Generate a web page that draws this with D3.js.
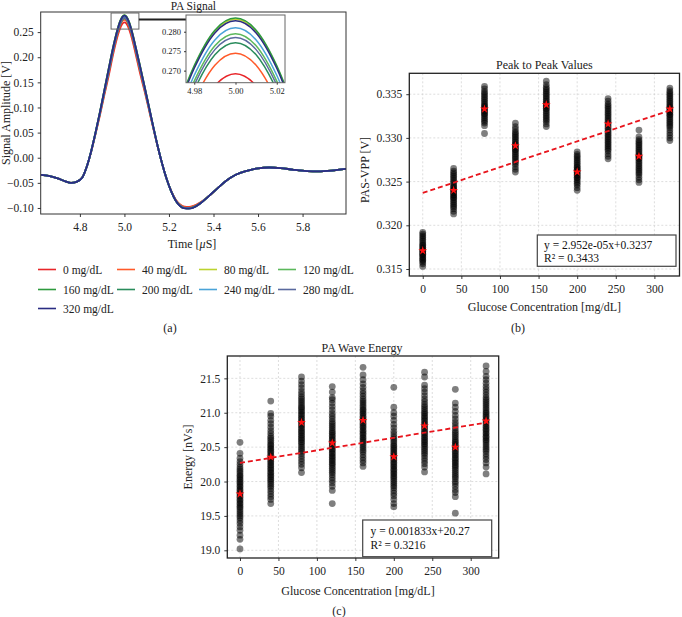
<!DOCTYPE html>
<html><head><meta charset="utf-8">
<script src="https://cdn.jsdelivr.net/npm/d3@7"></script>
<style>
body{margin:0;background:#fff;}
svg{display:block;font-family:"Liberation Serif","Times New Roman",serif;}
</style></head><body>
<svg id="chart" width="682" height="617"></svg>
<script>
// ---------------- DATA ----------------
const glucoseLevels = [0, 40, 80, 120, 160, 200, 240, 280, 320];
const legendLabels = ["0 mg/dL","40 mg/dL","80 mg/dL","120 mg/dL","160 mg/dL","200 mg/dL","240 mg/dL","280 mg/dL","320 mg/dL"];
const seriesColors = ["#e8262a","#ff5a2a","#bcd32f","#5cb85c","#2e9a3e","#2a8c5c","#4aa3d8","#5a6a9e","#2a2c82"];

// PA signal (time in µs, amplitude in V)
const timeLead = [4.625, 4.66, 4.70, 4.735, 4.76, 4.785, 4.81, 4.83];
const signalLead = [-0.034, -0.036, -0.041, -0.047, -0.050, -0.048, -0.040, -0.019];
const timeLobe = [4.85, 4.87, 4.89, 4.91, 4.93, 4.95, 4.96, 4.97, 4.98, 4.99, 5.00, 5.01, 5.02, 5.03, 5.04, 5.05, 5.07, 5.09, 5.11, 5.13, 5.15, 5.17, 5.19, 5.21, 5.23, 5.25, 5.27, 5.29, 5.31, 5.34];
const lobe0   = [0.0106,0.0464,0.0846,0.1250,0.1647,0.2072,0.2262,0.2432,0.2570,0.2661,0.2692,0.2661,0.2570,0.2432,0.2262,0.2072,0.1687,0.1330,0.0956,0.0574,0.0206,-0.013,-0.043,-0.066,-0.083,-0.093,-0.0975,-0.098,-0.096,-0.089];
const lobe40  = [0.0111,0.0478,0.0869,0.1287,0.1700,0.2125,0.2315,0.2485,0.2623,0.2714,0.2745,0.2714,0.2623,0.2485,0.2315,0.2125,0.1740,0.1367,0.0979,0.0587,0.0211,-0.013,-0.043,-0.066,-0.084,-0.094,-0.0985,-0.099,-0.097,-0.090];
const lobe80  = [0.0120,0.0499,0.0909,0.1348,0.1787,0.2212,0.2402,0.2572,0.2710,0.2801,0.2832,0.2801,0.2710,0.2572,0.2402,0.2212,0.1827,0.1428,0.1019,0.0609,0.0220,-0.013,-0.043,-0.067,-0.085,-0.096,-0.1005,-0.101,-0.099,-0.091];
const lobe120 = [0.0116,0.0490,0.0892,0.1322,0.1750,0.2175,0.2365,0.2535,0.2673,0.2764,0.2795,0.2764,0.2673,0.2535,0.2365,0.2175,0.1790,0.1402,0.1002,0.0600,0.0216,-0.013,-0.043,-0.067,-0.085,-0.0955,-0.100,-0.1005,-0.0985,-0.0905];
const lobe160 = [0.0120,0.0500,0.0910,0.1350,0.1790,0.2215,0.2405,0.2575,0.2713,0.2804,0.2835,0.2804,0.2713,0.2575,0.2405,0.2215,0.1830,0.1430,0.1020,0.0610,0.0220,-0.013,-0.043,-0.067,-0.085,-0.096,-0.1005,-0.101,-0.099,-0.091];
const lobe200 = [0.0114,0.0484,0.0882,0.1306,0.1727,0.2152,0.2342,0.2512,0.2650,0.2741,0.2772,0.2741,0.2650,0.2512,0.2342,0.2152,0.1767,0.1386,0.0992,0.0594,0.0214,-0.013,-0.043,-0.067,-0.085,-0.0955,-0.100,-0.1005,-0.0985,-0.0905];
const lobe240 = [0.0118,0.0494,0.0899,0.1333,0.1765,0.2190,0.2380,0.2550,0.2688,0.2779,0.2810,0.2779,0.2688,0.2550,0.2380,0.2190,0.1805,0.1413,0.1009,0.0604,0.0218,-0.013,-0.043,-0.067,-0.085,-0.096,-0.1005,-0.101,-0.099,-0.091];
const lobe280 = [0.0115,0.0488,0.0888,0.1315,0.1740,0.2165,0.2355,0.2525,0.2663,0.2754,0.2785,0.2754,0.2663,0.2525,0.2355,0.2165,0.1780,0.1395,0.0998,0.0598,0.0215,-0.013,-0.043,-0.067,-0.085,-0.096,-0.1005,-0.101,-0.099,-0.091];
const lobe320 = [0.0119,0.0498,0.0907,0.1345,0.1783,0.2208,0.2398,0.2568,0.2706,0.2797,0.2828,0.2797,0.2706,0.2568,0.2398,0.2208,0.1823,0.1425,0.1017,0.0608,0.0219,-0.013,-0.043,-0.067,-0.085,-0.0962,-0.1008,-0.1013,-0.0993,-0.0912];
const timeTail = [5.38, 5.42, 5.46, 5.50, 5.55, 5.60, 5.65, 5.70, 5.76, 5.82, 5.87, 5.93, 5.995];
const signalTail = [-0.076, -0.060, -0.045, -0.034, -0.026, -0.021, -0.0195, -0.0205, -0.024, -0.0265, -0.027, -0.0255, -0.022];
const signalLobes = [lobe0, lobe40, lobe80, lobe120, lobe160, lobe200, lobe240, lobe280, lobe320];

// Ticks
const ampTicks = [-0.10, -0.05, 0.00, 0.05, 0.10, 0.15, 0.20, 0.25];
const timeTicks = [4.8, 5.0, 5.2, 5.4, 5.6, 5.8];
const insetAmpTicks = [0.270, 0.275, 0.280];
const insetTimeTicks = [4.98, 5.00, 5.02];
const glucoseTicks = [0, 50, 100, 150, 200, 250, 300];
const vppTicks = [0.315, 0.320, 0.325, 0.330, 0.335];
const energyTicks = [19.0, 19.5, 20.0, 20.5, 21.0, 21.5];

// Peak-to-peak values [V]
const vpp0   = [0.3153,0.3156,0.3158,0.3160,0.3161,0.3163,0.3164,0.3166,0.3167,0.3168,0.3170,0.3171,0.3172,0.3174,0.3175,0.3177,0.3178,0.3180,0.3182,0.3184,0.3186,0.3188,0.3190,0.3192];
const vpp40  = [0.3213,0.3216,0.3219,0.3221,0.3223,0.3225,0.3227,0.3229,0.3231,0.3232,0.3234,0.3235,0.3237,0.3238,0.3240,0.3241,0.3243,0.3244,0.3246,0.3248,0.3250,0.3252,0.3254,0.3256,0.3258,0.3260,0.3262,0.3265];
const vpp80  = [0.3305,0.3314,0.3317,0.3319,0.3321,0.3323,0.3325,0.3327,0.3328,0.3330,0.3331,0.3333,0.3334,0.3336,0.3337,0.3339,0.3341,0.3343,0.3345,0.3347,0.3349,0.3351,0.3353,0.3356,0.3359];
const vpp120 = [0.3261,0.3264,0.3267,0.3270,0.3272,0.3274,0.3276,0.3278,0.3280,0.3282,0.3284,0.3286,0.3287,0.3289,0.3290,0.3292,0.3293,0.3295,0.3297,0.3299,0.3301,0.3303,0.3305,0.3307,0.3310,0.3313,0.3317];
const vpp160 = [0.3313,0.3316,0.3319,0.3321,0.3323,0.3325,0.3327,0.3329,0.3331,0.3333,0.3334,0.3336,0.3337,0.3339,0.3340,0.3342,0.3344,0.3346,0.3348,0.3350,0.3352,0.3354,0.3356,0.3358,0.3361,0.3365];
const vpp200 = [0.3240,0.3243,0.3246,0.3248,0.3250,0.3252,0.3254,0.3255,0.3257,0.3258,0.3260,0.3261,0.3263,0.3264,0.3266,0.3267,0.3269,0.3271,0.3273,0.3275,0.3277,0.3279,0.3281,0.3284];
const vpp240 = [0.3276,0.3279,0.3282,0.3285,0.3287,0.3289,0.3291,0.3293,0.3295,0.3297,0.3299,0.3301,0.3303,0.3305,0.3307,0.3309,0.3311,0.3313,0.3315,0.3317,0.3319,0.3321,0.3323,0.3325,0.3327,0.3329,0.3331,0.3333,0.3335,0.3337,0.3339,0.3342,0.3345];
const vpp280 = [0.3249,0.3252,0.3255,0.3258,0.3260,0.3262,0.3264,0.3266,0.3268,0.3270,0.3272,0.3274,0.3276,0.3277,0.3279,0.3280,0.3282,0.3284,0.3286,0.3288,0.3290,0.3292,0.3294,0.3296,0.3298,0.3301,0.3309];
const vpp320 = [0.3297,0.3300,0.3303,0.3306,0.3309,0.3312,0.3314,0.3316,0.3318,0.3320,0.3322,0.3324,0.3326,0.3327,0.3329,0.3330,0.3332,0.3333,0.3335,0.3336,0.3338,0.3340,0.3342,0.3344,0.3346,0.3348,0.3350,0.3352,0.3354,0.3357];
const vppMeans = [0.3171, 0.3240, 0.3333, 0.3291, 0.3338, 0.3261, 0.3316, 0.3279, 0.3333];
const vppFitSlope = 2.952e-05, vppFitIntercept = 0.3237;
const vppFitText = ["y = 2.952e-05x+0.3237", "R\u00B2 = 0.3433"];

// PA wave energy [nVs]
const energy0   = [19.02,19.16,19.22,19.29,19.34,19.39,19.43,19.47,19.50,19.53,19.56,19.59,19.62,19.64,19.67,19.69,19.72,19.74,19.77,19.79,19.82,19.84,19.87,19.89,19.92,19.94,19.97,19.99,20.02,20.04,20.07,20.09,20.12,20.15,20.18,20.21,20.25,20.29,20.34,20.41,20.57];
const energy40  = [19.68,19.74,19.78,19.82,19.86,19.90,19.93,19.96,19.99,20.02,20.04,20.07,20.09,20.12,20.14,20.17,20.19,20.22,20.24,20.27,20.29,20.32,20.34,20.37,20.39,20.42,20.44,20.47,20.49,20.52,20.54,20.57,20.60,20.63,20.66,20.70,20.74,20.79,20.84,20.89,20.95,20.99,21.17];
const energy80  = [20.13,20.20,20.25,20.29,20.33,20.37,20.41,20.44,20.47,20.50,20.53,20.56,20.58,20.61,20.63,20.66,20.68,20.71,20.73,20.76,20.78,20.81,20.83,20.86,20.88,20.91,20.93,20.96,20.98,21.01,21.03,21.06,21.08,21.11,21.14,21.17,21.20,21.23,21.27,21.31,21.36,21.41,21.46,21.52];
const energy120 = [19.68,19.87,19.93,19.98,20.02,20.06,20.10,20.13,20.16,20.19,20.22,20.25,20.27,20.30,20.32,20.35,20.37,20.40,20.42,20.45,20.47,20.50,20.52,20.55,20.57,20.60,20.62,20.65,20.67,20.70,20.72,20.75,20.78,20.81,20.84,20.87,20.91,20.95,20.99,21.04,21.09,21.14,21.19,21.22,21.30,21.38];
const energy160 = [20.22,20.27,20.31,20.35,20.39,20.43,20.46,20.49,20.52,20.55,20.58,20.60,20.63,20.65,20.68,20.70,20.73,20.75,20.78,20.80,20.83,20.85,20.88,20.90,20.93,20.95,20.98,21.00,21.03,21.05,21.08,21.11,21.14,21.17,21.20,21.24,21.28,21.32,21.37,21.42,21.48,21.55,21.66];
const energy200 = [19.63,19.68,19.74,19.79,19.83,19.87,19.91,19.94,19.97,20.00,20.03,20.06,20.08,20.11,20.13,20.16,20.18,20.21,20.23,20.26,20.28,20.31,20.33,20.36,20.38,20.41,20.43,20.46,20.48,20.51,20.53,20.56,20.59,20.62,20.65,20.69,20.73,20.78,20.83,20.89,20.95,21.00,21.08,21.37];
const energy240 = [20.14,20.21,20.26,20.30,20.34,20.38,20.41,20.44,20.47,20.50,20.53,20.55,20.58,20.60,20.63,20.65,20.68,20.70,20.73,20.75,20.78,20.80,20.83,20.85,20.88,20.90,20.93,20.95,20.98,21.00,21.03,21.06,21.09,21.12,21.16,21.20,21.25,21.30,21.35,21.40,21.52,21.59];
const energy280 = [19.54,19.78,19.84,19.88,19.93,19.97,20.00,20.04,20.07,20.10,20.13,20.16,20.19,20.22,20.24,20.27,20.29,20.32,20.34,20.37,20.39,20.42,20.44,20.47,20.49,20.52,20.54,20.57,20.59,20.62,20.65,20.68,20.71,20.74,20.78,20.82,20.86,20.91,20.96,21.02,21.08,21.14,21.34];
const energy320 = [20.11,20.21,20.27,20.32,20.36,20.40,20.44,20.47,20.50,20.53,20.56,20.59,20.61,20.64,20.66,20.69,20.71,20.74,20.76,20.79,20.81,20.84,20.86,20.89,20.91,20.94,20.96,20.99,21.01,21.04,21.07,21.10,21.13,21.16,21.19,21.22,21.26,21.30,21.34,21.38,21.43,21.48,21.53,21.60,21.68];
const energyMeans = [19.82, 20.355, 20.86, 20.56, 20.89, 20.36, 20.81, 20.50, 20.88];
const energyFitSlope = 0.001833, energyFitIntercept = 20.27;
const energyFitText = ["y = 0.001833x+20.27", "R\u00B2 = 0.3216"];

// ---------------- DRAWING ----------------
const FONT = "Liberation Serif, Times New Roman, serif";
const svg = d3.select("#chart");
const TXT = "#222";

function styleAxis(g, fs) {
  g.attr("font-family", FONT).attr("font-size", fs);
  g.select(".domain").remove();
  g.selectAll(".tick text").attr("fill", TXT).style("font-family", FONT);
  g.selectAll(".tick line").attr("stroke", "#222").attr("stroke-width", 0.9);
}
function text(x, y, s, opts = {}) {
  const t = svg.append("text").attr("x", x).attr("y", y).text(s)
    .style("font-family", FONT)
    .attr("font-size", opts.fs || 12).attr("fill", opts.fill || TXT)
    .attr("text-anchor", opts.anchor || "middle");
  if (opts.rotate) t.attr("transform", `rotate(-90,${x},${y})`);
  if (opts.weight) t.attr("font-weight", opts.weight);
  return t;
}

// ===== Panel (a): PA Signal =====
const A = { l: 40.7, r: 346, t: 12, b: 214 };
const xA = d3.scaleLinear().domain([4.624, 5.995]).range([A.l, A.r]);
const yA = d3.scaleLinear().domain([-0.112, 0.29]).range([A.b, A.t]);
const allTime = timeLead.concat(timeLobe, timeTail);
const series = glucoseLevels.map((g, i) => {
  const vals = signalLead.concat(signalLobes[i], signalTail);
  return { g, color: seriesColors[i], pts: allTime.map((t, j) => [t, vals[j]]) };
});

const defs = svg.append("defs");
defs.append("clipPath").attr("id", "clipA").append("rect")
  .attr("x", A.l).attr("y", A.t).attr("width", A.r - A.l).attr("height", A.b - A.t);

const lineA = d3.line().x(d => xA(d[0])).y(d => yA(d[1])).curve(d3.curveMonotoneX);
const gA = svg.append("g").attr("clip-path", "url(#clipA)");
series.forEach(s => {
  gA.append("path").attr("d", lineA(s.pts)).attr("fill", "none")
    .attr("stroke", s.color).attr("stroke-width", 1.8);
});

svg.append("rect").attr("x", A.l).attr("y", A.t).attr("width", A.r - A.l).attr("height", A.b - A.t)
  .attr("fill", "none").attr("stroke", "#333").attr("stroke-width", 1);

styleAxis(svg.append("g").attr("transform", `translate(${A.l},0)`)
  .call(d3.axisLeft(yA).tickValues(ampTicks).tickFormat(d3.format(".2f")).tickSize(3).tickPadding(4)), 11.5);
styleAxis(svg.append("g").attr("transform", `translate(0,${A.b})`)
  .call(d3.axisBottom(xA).tickValues(timeTicks).tickFormat(d3.format(".1f")).tickSize(3).tickPadding(6)), 11.5);

text((A.l + A.r) / 2, 10, "PA Signal", { fs: 11.5 });
text(10, (A.t + A.b) / 2, "Signal Amplitude [V]", { fs: 12, rotate: true });
const tl = text(192, 247.5, "", { fs: 12 });
tl.append("tspan").text("Time [");
tl.append("tspan").attr("font-style", "italic").text("\u03BC");
tl.append("tspan").text("S]");

// indicator box on main plot
svg.append("rect").attr("x", xA(4.94)).attr("y", yA(0.288))
  .attr("width", xA(5.065) - xA(4.94)).attr("height", yA(0.256) - yA(0.288))
  .attr("fill", "none").attr("stroke", "#666").attr("stroke-width", 1);

// Inset
const I = { l: 186, r: 285, t: 15, b: 82.7 };
svg.append("line").attr("x1", xA(5.065)).attr("x2", I.l).attr("y1", 19.4).attr("y2", 19.4)
  .attr("stroke", "#222").attr("stroke-width", 2);
const xI = d3.scaleLinear().domain([4.976, 5.024]).range([I.l, I.r]);
const yI = d3.scaleLinear().domain([0.2669, 0.2843]).range([I.b, I.t]);
svg.append("rect").attr("x", I.l).attr("y", I.t).attr("width", I.r - I.l).attr("height", I.b - I.t)
  .attr("fill", "#fff");
defs.append("clipPath").attr("id", "clipI").append("rect")
  .attr("x", I.l).attr("y", I.t).attr("width", I.r - I.l).attr("height", I.b - I.t);
const lineI = d3.line().x(d => xI(d[0])).y(d => yI(d[1])).curve(d3.curveMonotoneX);
const gI = svg.append("g").attr("clip-path", "url(#clipI)");
series.forEach(s => {
  gI.append("path").attr("d", lineI(s.pts)).attr("fill", "none")
    .attr("stroke", s.color).attr("stroke-width", 1.5);
});
svg.append("rect").attr("x", I.l).attr("y", I.t).attr("width", I.r - I.l).attr("height", I.b - I.t)
  .attr("fill", "none").attr("stroke", "#666").attr("stroke-width", 1);
styleAxis(svg.append("g").attr("transform", `translate(${I.l},0)`)
  .call(d3.axisLeft(yI).tickValues(insetAmpTicks).tickFormat(d3.format(".3f")).tickSize(2).tickPadding(3)), 8.5);
styleAxis(svg.append("g").attr("transform", `translate(0,${I.b})`)
  .call(d3.axisBottom(xI).tickValues(insetTimeTicks).tickFormat(d3.format(".2f")).tickSize(2).tickPadding(3)), 8.5);

// Legend (a)
const legCols = [38, 117, 199, 278];
const legRows = [269.5, 289.5, 308.5];
glucoseLevels.forEach((g, i) => {
  const cx = legCols[i % 4], cy = legRows[Math.floor(i / 4)];
  svg.append("line").attr("x1", cx).attr("x2", cx + 18).attr("y1", cy).attr("y2", cy)
    .attr("stroke", seriesColors[i]).attr("stroke-width", 1.6);
  text(cx + 25, cy + 4, legendLabels[i], { fs: 11.5, anchor: "start" });
});
text(170, 332, "(a)", { fs: 12 });

// ===== Scatter panel helper =====
function scatterPanel(P, xDomain, yDomain, yTicks, yFmt, clusters, means, slope, intercept, fitText, box, titleInfo, ylab, xlab, tag) {
  const x = d3.scaleLinear().domain(xDomain).range([P.l, P.r]);
  const y = d3.scaleLinear().domain(yDomain).range([P.b, P.t]);
  const grid = svg.append("g");
  glucoseTicks.forEach(t => grid.append("line").attr("x1", x(t)).attr("x2", x(t)).attr("y1", P.t).attr("y2", P.b)
    .attr("stroke", "#cfcfcf").attr("stroke-width", 0.7).attr("stroke-dasharray", "2,2"));
  yTicks.forEach(t => grid.append("line").attr("x1", P.l).attr("x2", P.r).attr("y1", y(t)).attr("y2", y(t))
    .attr("stroke", "#cfcfcf").attr("stroke-width", 0.7).attr("stroke-dasharray", "2,2"));
  const gp = svg.append("g");
  clusters.forEach((vals, i) => {
    gp.selectAll(null).data(vals).enter().append("circle")
      .attr("cx", x(glucoseLevels[i])).attr("cy", d => y(d)).attr("r", 3.4)
      .attr("fill", "#000").attr("fill-opacity", 0.5);
  });
  const fx = [glucoseLevels[0], glucoseLevels[glucoseLevels.length - 1]];
  svg.append("line").attr("x1", x(fx[0])).attr("x2", x(fx[1]))
    .attr("y1", y(slope * fx[0] + intercept)).attr("y2", y(slope * fx[1] + intercept))
    .attr("stroke", "#e8141c").attr("stroke-width", 1.8).attr("stroke-dasharray", "5,3");
  means.forEach((m, i) => {
    svg.append("path").attr("d", d3.symbol(d3.symbolStar, 24)())
      .attr("transform", `translate(${x(glucoseLevels[i])},${y(m)})`).attr("fill", "#ff1010");
  });
  svg.append("rect").attr("x", P.l).attr("y", P.t).attr("width", P.r - P.l).attr("height", P.b - P.t)
    .attr("fill", "none").attr("stroke", "#222").attr("stroke-width", 1.3);
  styleAxis(svg.append("g").attr("transform", `translate(${P.l},0)`)
    .call(d3.axisLeft(y).tickValues(yTicks).tickFormat(d3.format(yFmt)).tickSize(3).tickPadding(4)), 11.5);
  styleAxis(svg.append("g").attr("transform", `translate(0,${P.b})`)
    .call(d3.axisBottom(x).tickValues(glucoseTicks).tickFormat(d3.format("d")).tickSize(3).tickPadding(6)), 11.5);
  svg.append("rect").attr("x", box.x).attr("y", box.y).attr("width", box.w).attr("height", box.h)
    .attr("fill", "#fff").attr("stroke", "#444").attr("stroke-width", 1.2);
  text(box.tx, box.b1, fitText[0], { fs: 11.5, anchor: "start", fill: "#111" });
  text(box.tx, box.b2, fitText[1], { fs: 11.5, anchor: "start", fill: "#111" });
  text(titleInfo.x, titleInfo.y, titleInfo.s, { fs: 12 });
  text(ylab.x, ylab.y, ylab.s, { fs: 12, rotate: true });
  text(xlab.x, xlab.y, "Glucose Concentration [mg/dL]", { fs: 12 });
  text(tag.x, tag.y, tag.s, { fs: 12 });
}

// ===== Panel (b) =====
scatterPanel(
  { l: 409.3, r: 679.5, t: 73.3, b: 276 },
  [-17.4, 332.5], [0.3142, 0.33739], vppTicks, ".3f",
  [vpp0, vpp40, vpp80, vpp120, vpp160, vpp200, vpp240, vpp280, vpp320], vppMeans,
  vppFitSlope, vppFitIntercept, vppFitText,
  { x: 537.3, y: 235, w: 138.7, h: 31.3, tx: 544, b1: 249, b2: 261.5 },
  { x: 544.4, y: 68.5, s: "Peak to Peak Values" },
  { x: 369, y: 170, s: "PAS-VPP [V]" },
  { x: 544.4, y: 311 },
  { x: 518, y: 332, s: "(b)" }
);

// ===== Panel (c) =====
scatterPanel(
  { l: 227.3, r: 498.7, t: 356, b: 558 },
  [-16.5, 336.4], [18.888, 21.825], energyTicks, ".1f",
  [energy0, energy40, energy80, energy120, energy160, energy200, energy240, energy280, energy320], energyMeans,
  energyFitSlope, energyFitIntercept, energyFitText,
  { x: 362.7, y: 520, w: 129, h: 36.7, tx: 370.5, b1: 534.5, b2: 548.5 },
  { x: 362, y: 352, s: "PA Wave Energy" },
  { x: 192, y: 457, s: "Energy [nVs]" },
  { x: 358, y: 595 },
  { x: 339, y: 615, s: "(c)" }
);
</script>
</body></html>
